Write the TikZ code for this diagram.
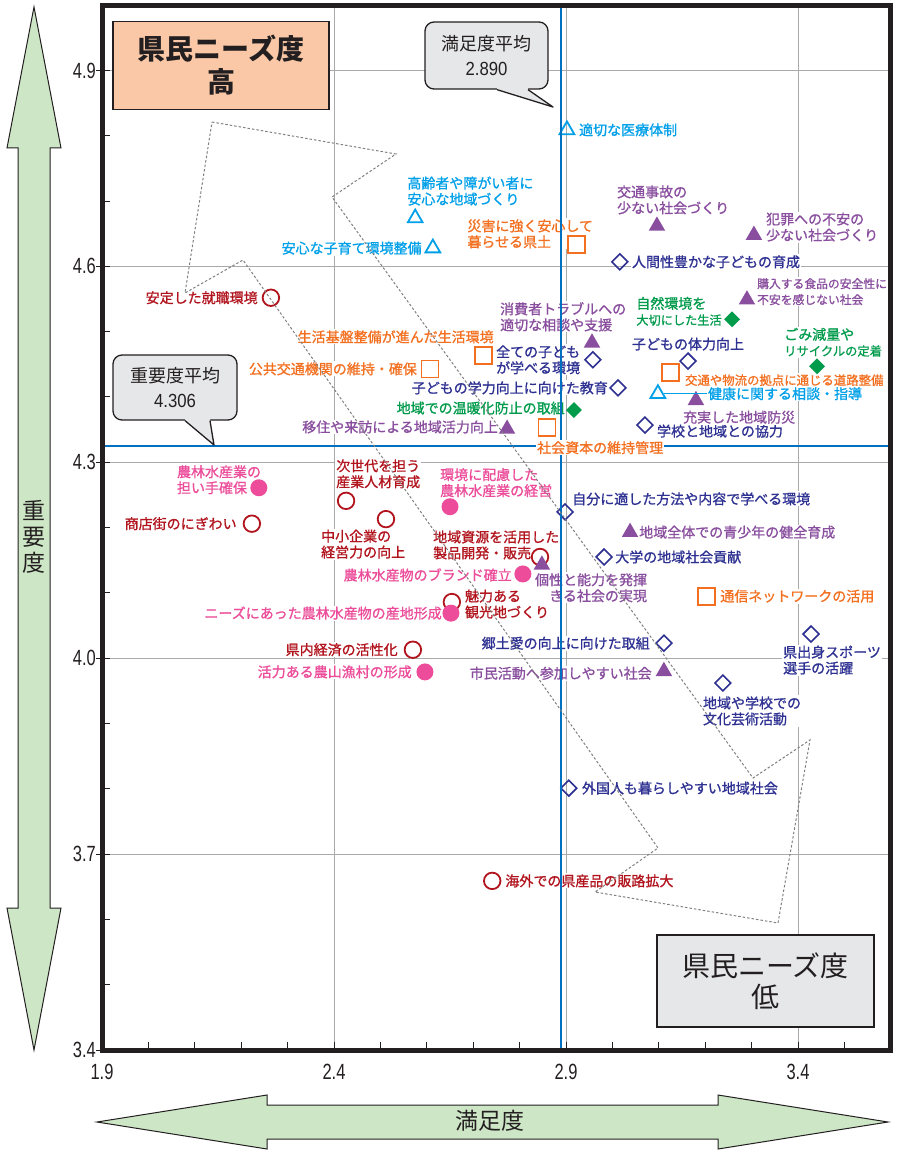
\documentclass[tikz,border=0pt]{standalone}
\usepackage{fontspec}
\setmainfont{Noto Sans CJK JP}
\newfontfamily\lblfont[FakeBold=1]{Noto Sans CJK JP}
\newfontfamily\numfont[FakeStretch=0.75]{Liberation Sans}
\newfontfamily\avgnumfont[FakeStretch=0.88]{Liberation Sans}
\usetikzlibrary{shapes.geometric}
\pgfdeclarelayer{grid}
\pgfdeclarelayer{bg}
\pgfdeclarelayer{fg}
\pgfsetlayers{grid,bg,main,fg}
\definecolor{cyanmk}{RGB}{0,160,233}
\definecolor{orangemk}{RGB}{243,112,33}
\definecolor{navymk}{RGB}{46,49,146}
\definecolor{purplemk}{RGB}{137,78,158}
\definecolor{greenmk}{RGB}{0,155,75}
\definecolor{redmk}{RGB}{178,20,30}
\definecolor{pinkmk}{RGB}{236,76,154}
\definecolor{avgblue}{RGB}{0,112,192}
\definecolor{gridgray}{RGB}{170,170,170}
\definecolor{framegray}{RGB}{35,31,32}
\definecolor{callgray}{RGB}{230,231,232}
\definecolor{salmon}{RGB}{250,200,166}
\definecolor{arrowgreen}{RGB}{205,230,197}
\definecolor{dotgray}{RGB}{128,128,128}
\tikzset{
    every node/.style={inner sep=0pt}
}
\tikzset{
    opentri/.style={regular polygon, regular polygon sides=3, draw=cyanmk, line width=1.8pt, minimum size=17pt},
    fulltri/.style={regular polygon, regular polygon sides=3, fill=purplemk, minimum size=19pt},
    opensq/.style={rectangle, draw=orangemk, line width=1.8pt, minimum size=17pt},
    opendia/.style={diamond, draw=navymk, line width=1.6pt, minimum size=16.5pt},
    fulldia/.style={diamond, fill=greenmk, minimum size=16pt},
    opencirc/.style={circle, draw=redmk, line width=1.8pt, minimum size=16.5pt},
    fullcirc/.style={circle, fill=pinkmk, minimum size=17pt}
}
\tikzset{
    lbl/.style={rectangle, fill=white, inner sep=1pt, align=left, font=\lblfont\fontsize{14}{16}\selectfont},
    lcy/.style={lbl, text=cyanmk},
    lor/.style={lbl, text=orangemk},
    lnv/.style={lbl, text=navymk},
    lpu/.style={lbl, text=purplemk},
    lgr/.style={lbl, text=greenmk},
    lrd/.style={lbl, text=redmk},
    lpk/.style={lbl, text=pinkmk},
    gridline/.style={draw=gridgray, line width=0.8pt},
    tickline/.style={draw=framegray, line width=1pt},
    ticklbl/.style={text=framegray, font=\numfont\fontsize{22}{24}\selectfont},
    avgline/.style={draw=avgblue, line width=2pt},
    dotpath/.style={draw=dotgray, line width=1pt, dash pattern=on 2.5pt off 2pt},
    callout/.style={rectangle, rounded corners=9pt, draw=framegray, line width=1.3pt, fill=callgray, align=center, text=framegray, font=\fontsize{18}{25}\selectfont},
    needbox/.style={rectangle, draw=framegray, line width=1.7pt, minimum width=216pt, minimum height=88pt, align=center, text=framegray},
    bigarrow/.style={draw=framegray, fill=arrowgreen, line width=1pt},
    axistitle/.style={text=framegray, align=center, font=\fontsize{23}{26}\selectfont}
}

\begin{document}
\begin{tikzpicture}[x=1pt, y=-1pt]
    \useasboundingbox (0,0) rectangle (901,1150);

    \begin{scope}[xshift=102pt, yshift=-1050pt, x=464pt, y=653pt, shift={(-1.9,-3.4)}]
        \begin{pgfonlayer}{grid}
            \foreach \x in {2.4,2.9,3.4}
                \draw[gridline] (\x,3.4) -- (\x,5.0);
            \foreach \y in {3.7,4.0,4.3,4.6,4.9}
                \draw[gridline] (1.9,\y) -- (3.6,\y);
            \foreach \x in {2.0,2.1,...,3.55}
                \draw[tickline] (\x,3.4) -- ++(0,8pt);
            \foreach \y in {3.5,3.6,...,4.95}
                \draw[tickline] (1.9,\y) -- ++(8pt,0);
            \foreach \y in {3.4,3.7,...,4.95}
                \draw[tickline] (1.9,\y) -- ++(-6pt,0);
        \end{pgfonlayer}

        \node[opencirc] (r1) at (2.264,4.552) {};
        \node[opencirc] (r2) at (2.426,4.241) {};
        \node[opencirc] (r3) at (2.223,4.206) {};
        \node[opencirc] (r4) at (2.512,4.213) {};
        \node[opencirc] (r5) at (2.844,4.155) {};
        \node[opencirc] (r6) at (2.654,4.086) {};
        \node[opencirc] (r7) at (2.570,4.013) {};
        \node[opencirc] (r8) at (2.741,3.659) {};
        \node[fullcirc] (k1) at (2.238,4.261) {};
        \node[fullcirc] (k2) at (2.650,4.232) {};
        \node[fullcirc] (k3) at (2.807,4.129) {};
        \node[fullcirc] (k4) at (2.652,4.069) {};
        \node[fullcirc] (k5) at (2.596,3.979) {};
        \node[opendia] (d1) at (3.016,4.607) {};
        \node[opendia] (d2) at (2.958,4.457) {};
        \node[opendia] (d3) at (3.012,4.414) {};
        \node[opendia] (d4) at (3.163,4.455) {};
        \node[opendia] (d5) at (3.070,4.357) {};
        \node[opendia] (d6) at (2.898,4.224) {};
        \node[opendia] (d7) at (2.982,4.155) {};
        \node[opendia] (d8) at (3.111,4.023) {};
        \node[opendia] (d9) at (3.428,4.037) {};
        \node[opendia] (d10) at (3.238,3.962) {};
        \node[opendia] (d11) at (2.906,3.801) {};
        \node[opensq] (s1) at (2.922,4.633) {};
        \node[opensq] (s2) at (2.723,4.463) {};
        \node[opensq] (s3) at (2.607,4.443) {};
        \node[opensq] (s4) at (2.859,4.353) {};
        \node[opensq] (s5) at (3.126,4.438) {};
        \node[opensq] (s6) at (3.202,4.095) {};
        \node[opentri] (c1) at (2.902,4.809) {};
        \node[opentri] (c2) at (2.575,4.674) {};
        \node[opentri] (c3) at (2.613,4.628) {};
        \node[opentri] (c4) at (3.098,4.405) {};
        \node[fulldia] (g1) at (3.258,4.519) {};
        \node[fulldia] (g2) at (3.441,4.447) {};
        \node[fulldia] (g3) at (2.917,4.380) {};
        \node[fulltri] (p1) at (3.096,4.662) {};
        \node[fulltri] (p2) at (3.305,4.648) {};
        \node[fulltri] (p3) at (3.290,4.549) {};
        \node[fulltri] (p4) at (2.956,4.483) {};
        \node[fulltri] (p5) at (3.180,4.395) {};
        \node[fulltri] (p6) at (2.773,4.351) {};
        \node[fulltri] (p7) at (3.038,4.193) {};
        \node[fulltri] (p8) at (2.848,4.143) {};
        \node[fulltri] (p9) at (3.111,3.980) {};

        \begin{pgfonlayer}{bg}
            \node[lcy, anchor=west] (c1l) at ([xshift=11pt]c1) {適切な医療体制};
            \node[lcy, anchor=west] (c2l) at ([xshift=-9pt, yshift=27pt]c2) {高齢者や障がい者に\\安心な地域づくり};
            \node[lcy, anchor=east] (c3l) at ([xshift=-10pt]c3) {安心な子育て環境整備};
            \node[lcy, anchor=west] (c4l) at ([xshift=49pt]c4) {健康に関する相談・指導};
            \node[lor, anchor=west] (s1l) at ([xshift=-110pt, yshift=11pt]s1) {災害に強く安心して\\暮らせる県土};
            \node[lor, anchor=east] (s2l) at ([xshift=11pt, yshift=19pt]s2) {生活基盤整備が進んだ生活環境};
            \node[lor, anchor=east] (s3l) at ([xshift=-12pt]s3) {公共交通機関の維持・確保};
            \node[lor, anchor=west, font=\lblfont\fontsize{12.4}{16}\selectfont] (s5l) at ([xshift=13pt, yshift=-8pt]s5) {交通や物流の拠点に通じる道路整備};
            \node[lor, anchor=west] (s6l) at ([xshift=13pt]s6) {通信ネットワークの活用};
            \node[lnv, anchor=west] (d1l) at ([xshift=11pt]d1) {人間性豊かな子どもの育成};
            \node[lnv, anchor=west] (d2l) at ([xshift=-98pt]d2) {全ての子ども\\が学べる環境};
            \node[lnv, anchor=east] (d3l) at ([xshift=-9pt]d3) {子どもの学力向上に向けた教育};
            \node[lnv] (d4l) at ([yshift=17pt]d4) {子どもの体力向上};
            \node[lnv, anchor=west] (d5l) at ([xshift=11pt, yshift=-6pt]d5) {学校と地域との協力};
            \node[lnv, anchor=west] (d6l) at ([xshift=6pt, yshift=13pt]d6) {自分に適した方法や内容で学べる環境};
            \node[lnv, anchor=west] (d7l) at ([xshift=10pt]d7) {大学の地域社会貢献};
            \node[lnv, anchor=east] (d8l) at ([xshift=-13pt]d8) {郷土愛の向上に向けた取組};
            \node[lnv, anchor=west] (d9l) at ([xshift=-29pt, yshift=-26pt]d9) {県出身スポーツ\\選手の活躍};
            \node[lnv, anchor=west] (d10l) at ([xshift=-21pt, yshift=-28pt]d10) {地域や学校での\\文化芸術活動};
            \node[lnv, anchor=west] (d11l) at ([xshift=12pt]d11) {外国人も暮らしやすい地域社会};
            \node[lpu, anchor=west] (p1l) at ([xshift=-41pt, yshift=26pt]p1) {交通事故の\\少ない社会づくり};
            \node[lpu, anchor=west] (p2l) at ([xshift=11pt, yshift=8pt]p2) {犯罪への不安の\\少ない社会づくり};
            \node[lpu, anchor=west, font=\lblfont\fontsize{11.8}{16}\selectfont] (p3l) at ([xshift=9pt, yshift=8pt]p3) {購入する食品の安全性に\\不安を感じない社会};
            \node[lpu, anchor=west] (p4l) at ([xshift=-93pt, yshift=26pt]p4) {消費者トラブルへの\\適切な相談や支援};
            \node[lpu, anchor=west] (p5l) at ([xshift=-14pt, yshift=-17pt]p5) {充実した地域防災};
            \node[lpu, anchor=east] (p6l) at ([xshift=-8pt, yshift=2pt]p6) {移住や来訪による地域活力向上};
            \node[lpu, anchor=west] (p7l) at ([xshift=8pt]p7) {地域全体での青少年の健全育成};
            \node[lpu, anchor=west, align=center] (p8l) at ([xshift=-8pt, yshift=-23pt]p8) {個性と能力を発揮\\できる社会の実現};
            \node[lpu, anchor=east] (p9l) at ([xshift=-11pt, yshift=-2pt]p9) {市民活動へ参加しやすい社会};
            \node[lgr, anchor=west] (g1l) at ([xshift=-97pt, yshift=8pt]g1) {自然環境を\\{\fontsize{12.2}{16}\selectfont 大切にした生活}};
            \node[lgr, anchor=west] (g2l) at ([xshift=-34pt, yshift=24pt]g2) {ごみ減量や\\{\fontsize{12.3}{16}\selectfont リサイクルの定着}};
            \node[lgr, anchor=east] (g3l) at ([xshift=-8pt, yshift=2pt]g3) {地域での温暖化防止の取組};
            \node[lrd, anchor=east] (r1l) at ([xshift=-12pt]r1) {安定した就職環境};
            \node[lrd, anchor=west] (r2l) at ([xshift=-11pt, yshift=27pt]r2) {次世代を担う\\産業人材育成};
            \node[lrd, anchor=east] (r3l) at ([xshift=-14pt]r3) {商店街のにぎわい};
            \node[lrd, anchor=west] (r4l) at ([xshift=-66pt, yshift=-25pt]r4) {中小企業の\\経営力の向上};
            \node[lrd, anchor=west] (r5l) at ([xshift=-108pt, yshift=12pt]r5) {地域資源を活用した\\製品開発・販売};
            \node[lrd, anchor=west] (r6l) at ([xshift=12pt, yshift=-2pt]r6) {魅力ある\\観光地づくり};
            \node[lrd, anchor=east] (r7l) at ([xshift=-14pt]r7) {県内経済の活性化};
            \node[lrd, anchor=west] (r8l) at ([xshift=12pt]r8) {海外での県産品の販路拡大};
            \node[lpk, anchor=west] (k1l) at ([xshift=-83pt, yshift=8pt]k1) {農林水産業の\\担い手確保};
            \node[lpk, anchor=west] (k2l) at ([xshift=-11pt, yshift=24pt]k2) {環境に配慮した\\農林水産業の経営};
            \node[lpk, anchor=east] (k3l) at ([xshift=-10pt, yshift=-1pt]k3) {農林水産物のブランド確立};
            \node[lpk, anchor=east] (k4l) at ([xshift=-8pt]k4) {ニーズにあった農林水産物の産地形成};
            \node[lpk, anchor=east] (k5l) at ([xshift=-12pt]k5) {活力ある農山漁村の形成};
        \end{pgfonlayer}

        \draw[cyanmk, line width=1.3pt] (c4) -- (c4l);

        \begin{pgfonlayer}{fg}
            \draw[avgline] (2.89,3.4) -- (2.89,5.0);
            \draw[avgline] (1.9,4.325) -- (3.6,4.325);
            \node[lor, anchor=west] (s4l) at ([xshift=-11pt, yshift=-20pt]s4) {社会資本の維持管理};
            \draw[line width=5pt, draw=framegray] (1.9,3.4) rectangle (3.6,5.0);
            \foreach \y in {3.4,3.7,4.0,4.3,4.6,4.9}
                \node[ticklbl, anchor=east] at ([xshift=-6pt]1.9,\y) {\y};
            \foreach \x in {1.9,2.4,2.9,3.4}
                \node[ticklbl] at ([yshift=-22pt]\x,3.4) {\x};
        \end{pgfonlayer}
    \end{scope}

    \begin{pgfonlayer}{fg}
        \draw[dotpath] (212,122) -- (396,154) -- (332,197) -- (753,778) -- (810,740) -- (778,923) -- (595,892) -- (658,848) -- (243,260) -- (185,293) -- cycle;

        \node[needbox, fill=salmon, font=\bfseries\fontsize{28}{33}\selectfont] (needhigh) at (221,65.5) {県民ニーズ度\\高};
        \node[needbox, fill=callgray, minimum width=217pt, minimum height=92pt, font=\fontsize{28}{31}\selectfont] (needlow) at (765.5,981) {県民ニーズ度\\低};

        \node[callout, minimum width=123pt, minimum height=67pt] (satavg) at (486.5,55.5) {満足度平均\\{\avgnumfont\fontsize{19}{25}\selectfont 2.890}};
        \coordinate (sattip) at (553,107);
        \fill[callgray] ([xshift=10.5pt, yshift=1.5pt]satavg.south) -- ([xshift=10.5pt]satavg.south) -- (sattip) -- ([xshift=41.5pt]satavg.south) -- ([xshift=41.5pt, yshift=1.5pt]satavg.south) -- cycle;
        \draw[framegray, line width=1.3pt, line join=round] ([xshift=10.5pt]satavg.south) -- (sattip) -- ([xshift=41.5pt]satavg.south);

        \node[callout, minimum width=124pt, minimum height=65pt] (impavg) at (175,387.5) {重要度平均\\{\avgnumfont\fontsize{19}{25}\selectfont 4.306}};
        \coordinate (imptip) at (214,445);
        \fill[callgray] ([xshift=10pt, yshift=1.5pt]impavg.south) -- ([xshift=10pt]impavg.south) -- (imptip) -- ([xshift=35pt]impavg.south) -- ([xshift=35pt, yshift=1.5pt]impavg.south) -- cycle;
        \draw[framegray, line width=1.3pt, line join=round] ([xshift=10pt]impavg.south) -- (imptip) -- ([xshift=35pt]impavg.south);
    \end{pgfonlayer}

    \draw[bigarrow] (34,7) -- (61,148) -- (50,148) -- (50,908) -- (61,908) -- (34,1050) -- (7,908) -- (18,908) -- (18,148) -- (7,148) -- cycle;
    \draw[bigarrow] (97,1122) -- (267,1095) -- (267,1105) -- (718,1105) -- (718,1095) -- (888,1122) -- (718,1149) -- (718,1139) -- (267,1139) -- (267,1149) -- cycle;
    \node[axistitle] (imptitle) at (34,537) {重\\要\\度};
    \node[axistitle] (sattitle) at (490,1121) {満足度};
\end{tikzpicture}
\end{document}
